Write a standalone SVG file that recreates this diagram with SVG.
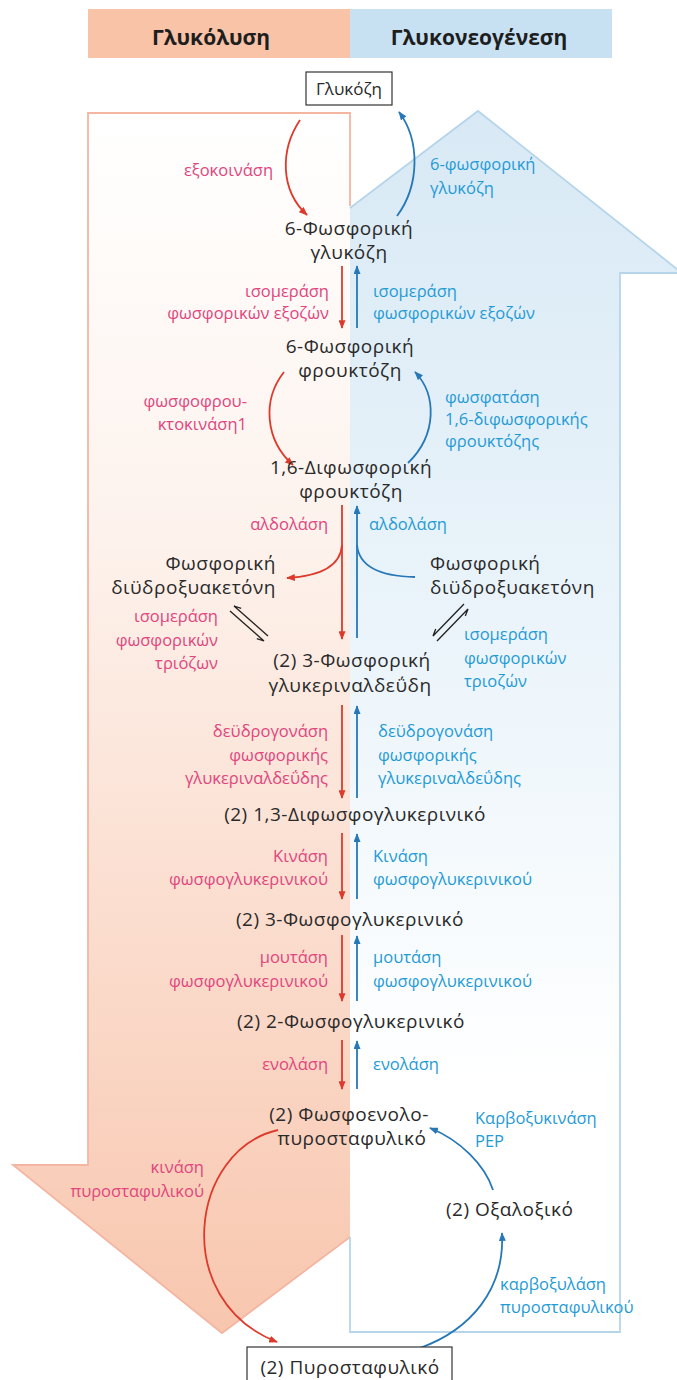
<svg xmlns="http://www.w3.org/2000/svg" width="677" height="1380" viewBox="0 0 677 1380">
<style>
text{font-family:"Open Sans","Noto Sans","DejaVu Sans",sans-serif}
.hd{font-size:21px;font-weight:bold;fill:#1e1e1e;text-anchor:middle}
.nd{font-size:19px;fill:#2a2a2a;letter-spacing:0.5px}
.c{text-anchor:middle}
.e{text-anchor:end}
.lp{font-size:16.5px;fill:#e2457d;text-anchor:end}
.lb{font-size:16.5px;fill:#1f9bd6}
.ra{fill:none;stroke:#de3a2c;stroke-width:1.8}
.ba{fill:none;stroke:#2678b8;stroke-width:1.8}
.eq{fill:none;stroke:#222;stroke-width:1.3}
</style>
<defs>
<linearGradient id="gO" gradientUnits="userSpaceOnUse" x1="0" y1="113" x2="0" y2="1333">
<stop offset="0" stop-color="#ffffff"/>
<stop offset="0.35" stop-color="#fdf2ec"/>
<stop offset="1" stop-color="#f8c6ae"/>
</linearGradient>
<linearGradient id="gB" gradientUnits="userSpaceOnUse" x1="0" y1="111" x2="0" y2="1332">
<stop offset="0" stop-color="#d8e9f5"/>
<stop offset="0.5" stop-color="#eef6fb"/>
<stop offset="0.8" stop-color="#ffffff"/>
</linearGradient>
<marker id="mr" viewBox="0 0 10 8" refX="9" refY="4" markerWidth="9" markerHeight="7" markerUnits="userSpaceOnUse" orient="auto">
<path d="M0,0 L10,4 L0,8 z" fill="#de3a2c"/>
</marker>
<marker id="mb" viewBox="0 0 10 8" refX="9" refY="4" markerWidth="9" markerHeight="7" markerUnits="userSpaceOnUse" orient="auto">
<path d="M0,0 L10,4 L0,8 z" fill="#2678b8"/>
</marker>
</defs>

<g id="background">
<polygon points="350,208 478,111 682,273 620,273 620,1332 350,1332" fill="url(#gB)"/>
<polygon points="88,113 350,113 350,1237 222,1333 13,1165 88,1165" fill="url(#gO)"/>
<polyline points="350,206 350,113 88,113 88,1165 13,1165 222,1333 350,1237" fill="none" stroke="#f4b5a1" stroke-width="1.8"/>
<polyline points="350,208 478,111 682,273 620,273 620,1332 350,1332 350,1237" fill="none" stroke="#b6d5ea" stroke-width="1.8"/>
</g>

<g id="header">
<rect x="88" y="9" width="262" height="49" fill="#f8c3a7"/>
<rect x="350" y="9" width="262" height="49" fill="#c8e1f2"/>
<text class="hd" x="211" y="45">Γλυκόλυση</text>
<text class="hd" x="479" y="45">Γλυκονεογένεση</text>
</g>

<g id="connectors">
<path class="ra" d="M300,120 C280,150 280,190 307,215" marker-end="url(#mr)"/>
<path class="ba" d="M397,216 C420,185 420,140 399,112" marker-end="url(#mb)"/>
<path class="ra" d="M342,266 L342,328" marker-end="url(#mr)"/>
<path class="ba" d="M357,328 L357,266" marker-end="url(#mb)"/>
<path class="ra" d="M284,372 C262,400 265,440 293,465" marker-end="url(#mr)"/>
<path class="ba" d="M408,463 C437,435 437,395 415,372" marker-end="url(#mb)"/>
<path class="ra" d="M342,505 L342,639" marker-end="url(#mr)"/>
<path class="ra" d="M342,545 Q340,575 287,578" marker-end="url(#mr)"/>
<path class="ba" d="M357,638 L357,506" marker-end="url(#mb)"/>
<path class="ba" d="M357,545 Q360,576 415,577"/>
<path class="eq" d="M230,611 L264,641 L256.8,638.6"/>
<path class="eq" d="M268,636 L234,606 L241.2,608.4"/>
<path class="eq" d="M464,604 L433,636 L435.7,628.9"/>
<path class="eq" d="M437,641 L468,609 L465.3,616.1"/>
<path class="ra" d="M342,705 L342,798" marker-end="url(#mr)"/>
<path class="ba" d="M357,798 L357,706" marker-end="url(#mb)"/>
<path class="ra" d="M342,833 L342,899" marker-end="url(#mr)"/>
<path class="ba" d="M357,899 L357,834" marker-end="url(#mb)"/>
<path class="ra" d="M342,935 L342,1001" marker-end="url(#mr)"/>
<path class="ba" d="M357,1001 L357,936" marker-end="url(#mb)"/>
<path class="ra" d="M342,1040 L342,1089" marker-end="url(#mr)"/>
<path class="ba" d="M357,1089 L357,1041" marker-end="url(#mb)"/>
<path class="ra" d="M278,1130 C190,1150 170,1300 277,1342" marker-end="url(#mr)"/>
<path class="ba" d="M420,1348 C470,1330 505,1290 502,1233" marker-end="url(#mb)"/>
<path class="ba" d="M493,1190 C485,1165 460,1140 430,1128" marker-end="url(#mb)"/>
</g>

<g id="n-glucose">
<rect x="306" y="72" width="86" height="33" fill="#fff" stroke="#333" stroke-width="1.2"/>
<text class="nd c" x="349" y="95" style="font-size:17px;letter-spacing:0">Γλυκόζη</text>
</g>
<g id="n-g6p"><text class="nd c" x="349" y="235">6-Φωσφορική</text><text class="nd c" x="349" y="259">γλυκόζη</text></g>
<g id="n-f6p"><text class="nd c" x="350" y="353">6-Φωσφορική</text><text class="nd c" x="350" y="377">φρουκτόζη</text></g>
<g id="n-fbp"><text class="nd c" x="351" y="474">1,6-Διφωσφορική</text><text class="nd c" x="351" y="498">φρουκτόζη</text></g>
<g id="n-dhap-l"><text class="nd e" x="276" y="570">Φωσφορική</text><text class="nd e" x="276" y="594">διϋδροξυακετόνη</text></g>
<g id="n-dhap-r"><text class="nd" x="430" y="570">Φωσφορική</text><text class="nd" x="430" y="594">διϋδροξυακετόνη</text></g>
<g id="n-g3p"><text class="nd c" x="352" y="667">(2) 3-Φωσφορική</text><text class="nd c" x="350" y="692">γλυκεριναλδεΰδη</text></g>
<g id="n-bpg"><text class="nd c" x="355" y="821">(2) 1,3-Διφωσφογλυκερινικό</text></g>
<g id="n-3pg"><text class="nd c" x="350" y="926">(2) 3-Φωσφογλυκερινικό</text></g>
<g id="n-2pg"><text class="nd c" x="351" y="1028">(2) 2-Φωσφογλυκερινικό</text></g>
<g id="n-pep"><text class="nd c" x="349" y="1121">(2) Φωσφοενολο-</text><text class="nd c" x="352" y="1145">πυροσταφυλικό</text></g>
<g id="n-oaa"><text class="nd" x="446" y="1216">(2) Οξαλοξικό</text></g>
<g id="n-pyr">
<rect x="247" y="1347" width="205" height="38" fill="#fff" stroke="#333" stroke-width="1.2"/>
<text class="nd c" x="350" y="1374">(2) Πυροσταφυλικό</text>
</g>

<g id="labels">
<text class="lp" x="273" y="176">εξοκοινάση</text>
<text class="lb" x="430" y="170">6-φωσφορική</text><text class="lb" x="430" y="194">γλυκόζη</text>
<text class="lp" x="329" y="297">ισομεράση</text><text class="lp" x="329" y="319">φωσφορικών εξοζών</text>
<text class="lb" x="373" y="297">ισομεράση</text><text class="lb" x="373" y="319">φωσφορικών εξοζών</text>
<text class="lp" x="247" y="407">φωσφοφρου-</text><text class="lp" x="247" y="430">κτοκινάση1</text>
<text class="lb" x="445" y="403">φωσφατάση</text><text class="lb" x="445" y="425">1,6-διφωσφορικής</text><text class="lb" x="445" y="447">φρουκτόζης</text>
<text class="lp" x="328" y="530">αλδολάση</text><text class="lb" x="369" y="530">αλδολάση</text>
<text class="lp" x="218" y="622">ισομεράση</text><text class="lp" x="218" y="646">φωσφορικών</text><text class="lp" x="218" y="669">τριόζων</text>
<text class="lb" x="464" y="640">ισομεράση</text><text class="lb" x="464" y="664">φωσφορικών</text><text class="lb" x="464" y="687">τριοζών</text>
<text class="lp" x="328" y="737">δεϋδρογονάση</text><text class="lp" x="328" y="761">φωσφορικής</text><text class="lp" x="328" y="784">γλυκεριναλδεΰδης</text>
<text class="lb" x="378" y="737">δεϋδρογονάση</text><text class="lb" x="378" y="761">φωσφορικής</text><text class="lb" x="378" y="784">γλυκεριναλδεΰδης</text>
<text class="lp" x="328" y="862">Κινάση</text><text class="lp" x="328" y="885">φωσφογλυκερινικού</text>
<text class="lb" x="373" y="862">Κινάση</text><text class="lb" x="373" y="885">φωσφογλυκερινικού</text>
<text class="lp" x="328" y="963">μουτάση</text><text class="lp" x="328" y="987">φωσφογλυκερινικού</text>
<text class="lb" x="373" y="963">μουτάση</text><text class="lb" x="373" y="987">φωσφογλυκερινικού</text>
<text class="lp" x="328" y="1070">ενολάση</text><text class="lb" x="373" y="1070">ενολάση</text>
<text class="lb" x="475" y="1124">Καρβοξυκινάση</text><text class="lb" x="475" y="1147">PEP</text>
<text class="lp" x="204" y="1173">κινάση</text><text class="lp" x="204" y="1197">πυροσταφυλικού</text>
<text class="lb" x="500" y="1290">καρβοξυλάση</text><text class="lb" x="500" y="1313">πυροσταφυλικού</text>
</g>
</svg>
